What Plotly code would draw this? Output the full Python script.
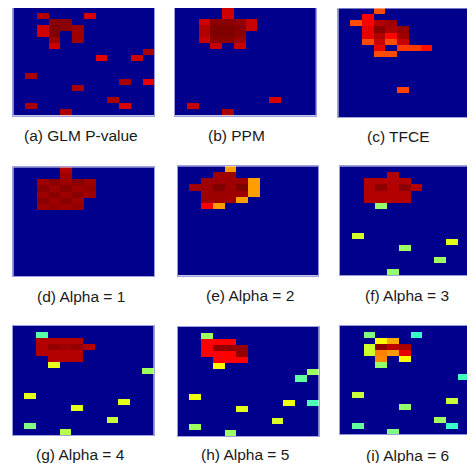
import numpy as np
import plotly.graph_objects as go

N_ROWS, N_COLS = 18, 12

titles = ["(a) GLM P-value", "(b) PPM", "(c) TFCE",
          "(d) Alpha = 1", "(e) Alpha = 2", "(f) Alpha = 3",
          "(g) Alpha = 4", "(h) Alpha = 5", "(i) Alpha = 6"]

# each entry: [row, col, value]  (value on a 0..1 jet scale, background = 0)
cells_a = [[1, 2, 0.95], [1, 6, 0.91], [2, 3, 0.99], [2, 4, 0.99],
           [3, 2, 0.92], [3, 3, 1.0], [3, 4, 0.99], [3, 5, 0.97],
           [4, 2, 0.92], [4, 3, 1.0], [4, 5, 0.97], [5, 3, 0.97], [5, 5, 0.97],
           [6, 3, 0.92], [7, 11, 0.96], [8, 7, 0.9], [8, 10, 0.92],
           [11, 1, 0.96], [12, 9, 0.96], [12, 11, 0.9], [13, 5, 0.96],
           [15, 8, 0.96], [16, 1, 0.96], [16, 9, 0.91], [17, 4, 0.96]]
cells_b = [[0, 4, 0.92], [1, 4, 0.92],
           [2, 2, 0.92], [2, 3, 0.99], [2, 4, 0.99], [2, 5, 0.98], [2, 6, 0.93],
           [3, 2, 0.95], [3, 3, 1.0], [3, 4, 1.0], [3, 5, 0.99], [3, 6, 0.93],
           [4, 2, 0.95], [4, 3, 1.0], [4, 4, 1.0], [4, 5, 0.99],
           [5, 2, 0.93], [5, 3, 0.99], [5, 4, 0.99], [5, 5, 0.97],
           [6, 3, 0.93], [6, 5, 0.93],
           [15, 8, 0.91], [16, 1, 0.93], [17, 4, 0.96]]
cells_c = [[0, 3, 0.8], [1, 2, 0.88],
           [2, 1, 0.8], [2, 2, 0.88], [2, 3, 0.95], [2, 4, 0.97],
           [3, 2, 0.9], [3, 3, 0.99], [3, 4, 0.96], [3, 5, 0.98],
           [4, 2, 0.9], [4, 3, 0.95], [4, 4, 0.87], [4, 5, 0.97],
           [5, 2, 0.8], [5, 3, 0.93], [5, 4, 0.8], [5, 5, 0.93],
           [6, 3, 0.9], [6, 5, 0.82], [6, 6, 0.82], [6, 7, 0.86],
           [7, 3, 0.8], [7, 4, 0.8], [13, 5, 0.81]]
cells_d = [[0, 4, 0.95], [1, 4, 0.97],
           [2, 2, 0.97], [2, 3, 0.99], [2, 4, 0.97], [2, 5, 0.99], [2, 6, 0.97],
           [3, 2, 0.99], [3, 3, 0.97], [3, 4, 0.99], [3, 5, 0.97], [3, 6, 0.98],
           [4, 2, 0.97], [4, 3, 0.99], [4, 4, 0.97], [4, 5, 0.99], [4, 6, 0.97],
           [5, 2, 0.99], [5, 3, 0.97], [5, 4, 0.99], [5, 5, 0.97],
           [6, 2, 0.97], [6, 3, 0.98], [6, 4, 0.97], [6, 5, 0.98]]
cells_e = [[0, 4, 0.72], [1, 3, 0.97], [1, 4, 0.97],
           [2, 2, 0.97], [2, 3, 0.97], [2, 4, 0.97], [2, 5, 0.97], [2, 6, 0.72],
           [3, 1, 0.97], [3, 2, 0.97], [3, 3, 1.0], [3, 4, 0.97], [3, 5, 1.0], [3, 6, 0.72],
           [4, 2, 0.97], [4, 3, 0.97], [4, 4, 0.97], [4, 5, 0.97], [4, 6, 0.72],
           [5, 2, 0.97], [5, 3, 0.97], [5, 4, 0.97], [5, 5, 0.72],
           [6, 2, 0.88], [6, 3, 0.72]]
cells_f = [[1, 4, 0.95],
           [2, 2, 0.95], [2, 3, 0.95], [2, 4, 0.95], [2, 5, 0.95],
           [3, 2, 0.95], [3, 3, 0.985], [3, 4, 0.95], [3, 5, 0.985], [3, 6, 0.95],
           [4, 2, 0.95], [4, 3, 0.95], [4, 4, 0.95], [4, 5, 0.95],
           [5, 2, 0.95], [5, 3, 0.95], [5, 4, 0.95], [5, 5, 0.95],
           [6, 3, 0.52], [7, 11, 0.52], [11, 1, 0.585], [12, 9, 0.6],
           [13, 5, 0.53], [15, 8, 0.53], [17, 4, 0.52]]
cells_g = [[1, 2, 0.46],
           [2, 2, 0.95], [2, 3, 0.95], [2, 4, 0.95], [2, 5, 0.95],
           [3, 2, 0.95], [3, 3, 0.98], [3, 4, 0.97], [3, 5, 0.98], [3, 6, 0.95],
           [4, 2, 0.95], [4, 3, 0.95], [4, 4, 0.95], [4, 5, 0.95],
           [5, 3, 0.95], [5, 4, 0.95], [5, 5, 0.95],
           [6, 3, 0.6], [7, 11, 0.53], [11, 1, 0.6], [12, 9, 0.6],
           [13, 5, 0.6], [15, 8, 0.57], [16, 1, 0.5], [17, 4, 0.55]]
cells_h = [[1, 2, 0.53],
           [2, 2, 0.875], [2, 3, 0.875], [2, 4, 0.875],
           [3, 2, 0.875], [3, 3, 0.98], [3, 4, 0.98], [3, 5, 0.98],
           [4, 2, 0.875], [4, 3, 0.875], [4, 4, 0.875], [4, 5, 0.98],
           [5, 3, 0.875], [5, 4, 0.875], [5, 5, 0.875],
           [6, 3, 0.63], [7, 11, 0.53], [8, 10, 0.47], [11, 1, 0.61],
           [12, 9, 0.61], [12, 11, 0.45], [13, 5, 0.6], [15, 8, 0.59],
           [16, 1, 0.53], [17, 4, 0.53]]
cells_i = [[1, 2, 0.5], [1, 6, 0.43],
           [2, 3, 0.63], [2, 4, 0.71],
           [3, 2, 0.58], [3, 3, 0.985], [3, 4, 0.94], [3, 5, 0.96],
           [4, 2, 0.58], [4, 3, 0.75], [4, 4, 0.725], [4, 5, 0.9],
           [5, 3, 0.74], [5, 5, 0.63], [6, 3, 0.52],
           [7, 11, 0.53], [8, 10, 0.44], [11, 1, 0.57], [12, 9, 0.57],
           [12, 11, 0.44], [13, 5, 0.52], [15, 8, 0.53], [16, 1, 0.47],
           [16, 9, 0.43], [17, 4, 0.5]]

panels = [cells_a, cells_b, cells_c, cells_d, cells_e, cells_f, cells_g, cells_h, cells_i]

# the page body adds an 8 px margin; lay out in page pixels and shift
OFF = 8
W, H = 475 - OFF, 463 - OFF
# panel boxes in page pixels: left, right, top, bottom
boxes = [(13.3, 154.3, 7.3, 115.7), (175.0, 315.7, 7.3, 115.7), (338.3, 479.3, 8.3, 117.0),
         (13.3, 154.3, 167.3, 276.0), (177.7, 318.3, 166.3, 275.7), (340.0, 481.0, 166.3, 275.3),
         (12.7, 153.7, 326.0, 435.3), (177.7, 318.7, 327.0, 436.0), (340.0, 481.0, 325.7, 434.3)]
label_pos = [(81.3, 135.0), (236.7, 135.0), (398.3, 136.7),
             (81.2, 296.5), (250.0, 295.5), (407.0, 295.5),
             (80.0, 454.5), (245.5, 454.5), (407.8, 455.0)]

jet = [[0.0, "rgb(0,0,140)"], [0.125, "rgb(0,0,255)"], [0.375, "rgb(0,255,255)"],
       [0.625, "rgb(255,255,0)"], [0.875, "rgb(255,0,0)"], [1.0, "rgb(128,0,0)"]]

fig = go.Figure()
annotations = []
for k, (cells, box) in enumerate(zip(panels, boxes)):
    z = np.zeros((N_ROWS, N_COLS))
    for r, c, v in cells:
        z[r, c] = v
    ax = "" if k == 0 else str(k + 1)
    fig.add_trace(go.Heatmap(z=z, colorscale=jet, zmin=0, zmax=1, showscale=False,
                             xaxis="x" + ax, yaxis="y" + ax, hoverinfo="skip"))
    l, r_, t, b = [v - OFF for v in box]
    # clip the panel to the visible page area, adjusting the axis range to match
    l_c, r_c, t_c, b_c = max(l, 0), min(r_, W), max(t, 0), min(b, H)
    xr = [-0.5 + N_COLS * (l_c - l) / (r_ - l), -0.5 + N_COLS * (r_c - l) / (r_ - l)]
    yr = [-0.5 + N_ROWS * (b_c - t) / (b - t), -0.5 + N_ROWS * (t_c - t) / (b - t)]
    lc = "rgba(120,120,210,0.7)"
    clipped_right = r_ > W
    fig.layout["xaxis" + ax] = dict(domain=[l_c / W, r_c / W], range=xr,
                                    showticklabels=False, ticks="", showgrid=False, zeroline=False,
                                    showline=True, mirror=True, linecolor=lc, linewidth=1,
                                    anchor="y" + ax, fixedrange=True)
    fig.layout["yaxis" + ax] = dict(domain=[1 - b_c / H, 1 - t_c / H], range=yr,
                                    showticklabels=False, ticks="", showgrid=False, zeroline=False,
                                    showline=True, mirror=not clipped_right, linecolor=lc,
                                    linewidth=1, anchor="x" + ax, fixedrange=True)
    lx, ly = label_pos[k]
    annotations.append(dict(text=titles[k], x=(lx - OFF) / W, y=1 - (ly - OFF) / H,
                            xref="paper", yref="paper",
                            xanchor="center", yanchor="middle", showarrow=False,
                            font=dict(family="Liberation Sans, Arial, sans-serif", size=15.5,
                                      color="#1a1a1a")))

fig.update_layout(width=W, height=H, margin=dict(l=0, r=0, t=0, b=0),
                  paper_bgcolor="white", plot_bgcolor="white", annotations=annotations,
                  showlegend=False)
fig.write_html("out.html")
